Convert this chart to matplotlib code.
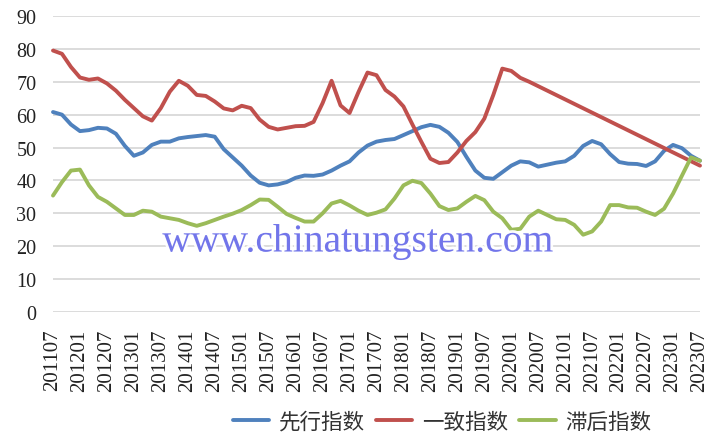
import numpy as np
import pandas as pd
import matplotlib
matplotlib.use("Agg")
import matplotlib.pyplot as plt
import matplotlib.patheffects as pe

# bi-monthly readings, 201107 .. 202307
dates = [p.strftime("%Y%m") for p in pd.period_range("2011-07", "2023-07", freq="M")[::2]]

leading = [60.8, 60.0, 57.0, 55.0, 55.3, 56.0, 55.8, 54.2, 50.5, 47.5,
           48.5, 50.8, 51.8, 51.8, 52.8, 53.2, 53.5, 53.8, 53.3, 49.5,
           47.0, 44.5, 41.5, 39.3, 38.5, 38.8, 39.5, 40.8, 41.5, 41.4,
           41.8, 43.0, 44.5, 45.8, 48.5, 50.6, 51.8, 52.3, 52.6, 53.8,
           55.0, 56.2, 56.9, 56.3, 54.5, 51.7, 47.2, 43.0, 40.8, 40.5,
           42.5, 44.5, 45.8, 45.5, 44.2, 44.8, 45.4, 45.8, 47.5, 50.5,
           52.0, 51.0, 48.0, 45.6, 45.1, 45.0, 44.4, 45.8, 49.0, 50.8,
           49.8, 47.5, 46.0]

coincident = [79.5, 78.5, 74.5, 71.3, 70.6, 71.0, 69.5, 67.3, 64.5, 62.0,
              59.5, 58.2, 62.0, 67.0, 70.3, 68.8, 66.0, 65.7, 64.0, 61.9,
              61.3, 62.7, 62.0, 58.5, 56.3, 55.5, 56.0, 56.5, 56.6, 57.8,
              63.5, 70.3, 62.8, 60.5, 66.9, 72.8, 72.0, 67.5, 65.5, 62.5,
              57.0, 51.7, 46.6, 45.3, 45.6, 48.5, 52.0, 54.7, 58.8, 66.0,
              74.0, 73.3, 71.2, 70.0, 44.5]
coincident_dates = dates[:54] + ["202307"]

lagging = [35.4, 39.5, 43.0, 43.3, 38.5, 35.0, 33.5, 31.5, 29.5, 29.5,
           30.8, 30.5, 29.0, 28.5, 28.0, 27.0, 26.2, 27.0, 28.0, 29.0,
           29.9, 31.0, 32.5, 34.2, 34.1, 32.0, 29.8, 28.6, 27.5, 27.5,
           30.0, 33.0, 33.8, 32.4, 30.8, 29.5, 30.2, 31.2, 34.5, 38.5,
           39.9, 39.2, 36.0, 32.2, 31.0, 31.5, 33.5, 35.3, 34.0, 30.5,
           28.5, 25.0, 25.3, 29.0, 30.8, 29.5, 28.2, 28.0, 26.5, 23.5,
           24.5, 27.5, 32.5, 32.5, 31.8, 31.7, 30.5, 29.5, 31.4, 36.0,
           41.5, 47.0, 46.0]

tick_labels = ["201107", "201201", "201207", "201301", "201307", "201401",
               "201407", "201501", "201507", "201601", "201607", "201701",
               "201707", "201801", "201807", "201901", "201907", "202001",
               "202007", "202101", "202107", "202201", "202207", "202301",
               "202307"]

series_names = ["先行指数", "一致指数", "滞后指数"]
colors = ["#4F81BD", "#C0504D", "#9BBB59"]


def month_pos(s):
    return (int(s[:4]) - 2011) * 12 + int(s[4:]) - 7


plt.rcParams["font.family"] = ["Liberation Serif", "Noto Sans CJK SC"]

fig = plt.figure(figsize=(7.1, 4.35), dpi=100)
ax = fig.add_axes([53 / 710, 1 - 313 / 435, 647 / 710, 296 / 435])

line_kw = dict(lw=2.8, clip_on=False, zorder=3, solid_joinstyle="round", solid_capstyle="round")
ax.plot([month_pos(d) for d in dates], leading, color=colors[0],
        label=series_names[0], **line_kw)
ax.plot([month_pos(d) for d in coincident_dates], coincident, color=colors[1],
        label=series_names[1], **line_kw)
ax.plot([month_pos(d) for d in dates], lagging, color=colors[2],
        label=series_names[2], **line_kw)

ax.set_ylim(0, 90)
ax.set_yticks(range(0, 91, 10))
ax.set_xlim(0, month_pos(tick_labels[-1]))
ax.set_xticks([month_pos(t) for t in tick_labels])
ax.set_xticklabels(tick_labels, rotation=90, fontsize=15, color="#222222")
ax.tick_params(axis="x", length=0, pad=12)
ax.tick_params(axis="y", length=0, pad=12, labelsize=14.5, labelcolor="#222222")
ax.grid(axis="y", color="#d9d9d9", lw=1.3)
ax.set_axisbelow(True)
for s in ax.spines.values():
    s.set_visible(False)

# watermark
fig.text(358 / 710, 1 - 243 / 435, "www.chinatungsten.com", fontsize=28.5,
         color="#6468e8", alpha=0.9, ha="center", va="center", zorder=5,
         path_effects=[pe.withStroke(linewidth=4, foreground="white")])

fig.legend(loc="center", bbox_to_anchor=(442 / 710, 1 - 423 / 435), ncol=3,
           frameon=False, handlelength=1.7, handletextpad=0.45, columnspacing=0.5,
           labelcolor="#333333",
           prop={"family": ["Noto Sans CJK SC"], "size": 15.5})

fig.savefig("out.png", dpi=100)
